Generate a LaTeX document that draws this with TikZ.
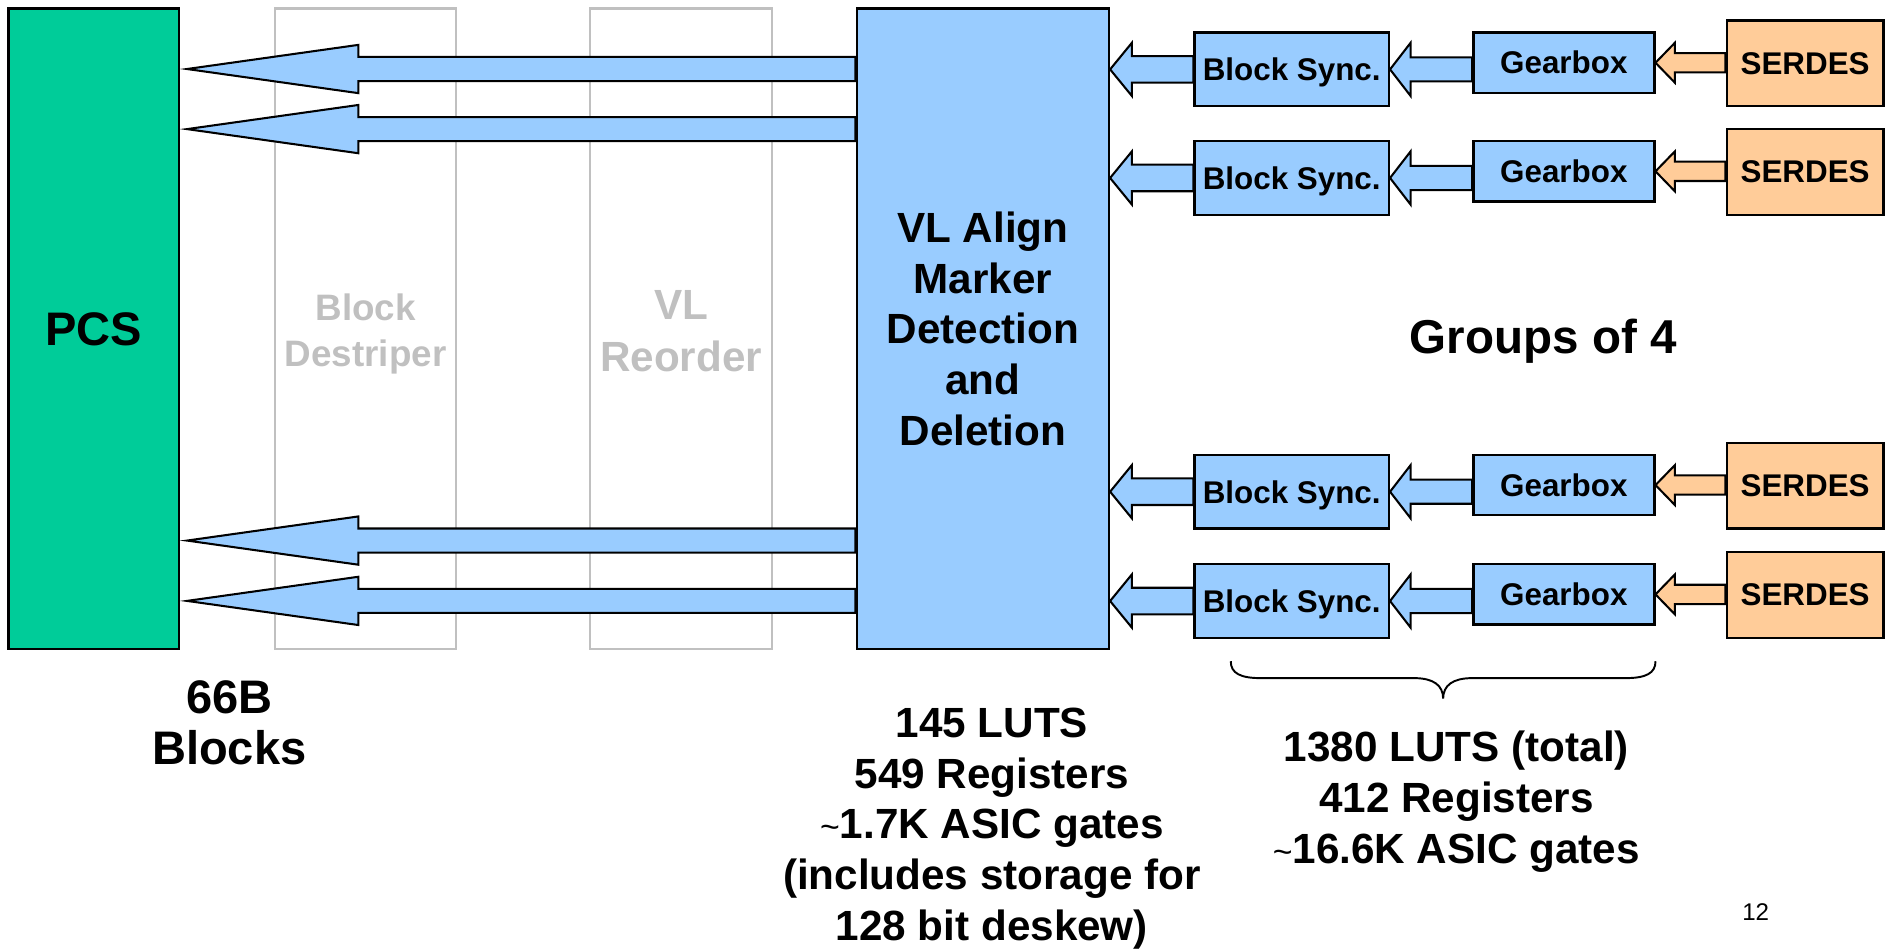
\documentclass[tikz,border=0pt]{standalone}
\usepackage{fontspec}
\setmainfont{Liberation Sans}
\usetikzlibrary{calc}
\definecolor{pcsgreen}{HTML}{00CC99}
\definecolor{lblue}{HTML}{99CCFF}
\definecolor{lorange}{HTML}{FFCC99}
\definecolor{lgrey}{HTML}{C0C0C0}
\newcommand{\blkarrow}[6]{%
  \path[#1] let \p1=(#2), \p2=(#3) in
    (\x1,\y2+#4) -- (\x2+#6,\y2+#4) -- (\x2+#6,\y2+#5) -- (\x2,\y2)
    -- (\x2+#6,\y2-#5) -- (\x2+#6,\y2-#4) -- (\x1,\y2-#4) -- cycle;}
\newcommand{\smalltilde}{{\mdseries\fontsize{14}{14}\selectfont\textasciitilde}}
\tikzset{
  box/.style={draw, line width=1pt, inner sep=0pt, align=center},
  tall/.style={box, minimum height=265.5pt},
  greybox/.style={draw=lgrey, line width=1pt, inner sep=0pt, minimum height=265.5pt},
  greylabel/.style={align=center, inner sep=0pt, text=lgrey},
  bsbox/.style={box, fill=lblue, minimum width=80.5pt, minimum height=30.5pt, text depth=0pt, font=\bfseries\fontsize{13}{15}\selectfont},
  gbbox/.style={box, fill=lblue, minimum width=75pt, minimum height=25pt, font=\bfseries\fontsize{13}{15}\selectfont},
  sdbox/.style={box, fill=lorange, minimum width=65pt, minimum height=35.5pt, font=\bfseries\fontsize{13}{15}\selectfont},
  bluearrow/.style={draw, line width=0.85pt, fill=lblue, line join=miter},
  orangearrow/.style={draw, line width=0.85pt, fill=lorange, line join=miter},
  note/.style={align=center, inner sep=0pt, font=\bfseries\fontsize{17.5}{21}\selectfont},
  bracestyle/.style={draw, line width=0.8pt}
}
\begin{document}
\begin{tikzpicture}[x=0.5pt,y=-0.5pt]
\useasboundingbox (0,0) rectangle (1568,786);
% main column boxes
\node[tall, fill=pcsgreen, minimum width=70.7pt, font=\bfseries\fontsize{19.5}{21}\selectfont] (pcs) at (77.8,272.5) {PCS};
\node[greybox, minimum width=75pt] (destr) at (303,272.5) {};
\node[greylabel, font=\bfseries\fontsize{15.25}{19}\selectfont] (destrlbl) at (303,276.5) {Block\\Destriper};
\node[greybox, minimum width=75.5pt] (reord) at (564.5,272.5) {};
\node[greylabel, font=\bfseries\fontsize{17.5}{21.5}\selectfont] (reordlbl) at (564.5,274.5) {VL\\Reorder};
\node[tall, fill=lblue, minimum width=104.5pt, font=\bfseries\fontsize{17.5}{21}\selectfont] (vl) at (814.5,272.5) {VL Align\\Marker\\Detection\\and\\Deletion};
% big arrows to PCS
\coordinate (tip1) at (155,57.2);
\coordinate (tip2) at (155,107);
\coordinate (tip3) at (155,448);
\coordinate (tip4) at (155,498);
\foreach \t in {tip1,tip2,tip3,tip4}{
  \blkarrow{bluearrow}{vl.west}{\t}{5pt}{10pt}{71pt}
}
% lane rows
\foreach \r/\top in {1/27,2/117,3/377,4/467.6}{
  \node[bsbox] (bs\r) at (1070.5,\top+30.5) {Block Sync.};
  \node[gbbox] (gb\r) at (1296,\top+25) {Gearbox};
  \node[sdbox] (sd\r) at (1496,\top+25.5) {SERDES};
  \blkarrow{bluearrow}{bs\r.west}{vl.east |- bs\r.west}{5.5pt}{11pt}{9pt}
  \blkarrow{bluearrow}{gb\r.west}{bs\r.east}{5pt}{11pt}{8.5pt}
  \blkarrow{orangearrow}{sd\r.west}{gb\r.east}{4pt}{8.25pt}{8pt}
}
\node[note, font=\bfseries\fontsize{19.7}{21}\selectfont] (groups) at (1279,283) {Groups of 4};
% brace
\draw[bracestyle] (1020,548) .. controls (1020,558) and (1028,562) .. (1045,562) -- (1172,562)
  .. controls (1188,562) and (1196,568) .. (1196,579)
  .. controls (1196,568) and (1204,562) .. (1220,562) -- (1347,562)
  .. controls (1364,562) and (1372,558) .. (1372,548);
% notes
\node[note, font=\bfseries\fontsize{19.5}{21}\selectfont] (blocks) at (190,599) {66B\\Blocks};
\node[note] (vlnote) at (822,686.5) {145 LUTS\\549 Registers\\\smalltilde1.7K ASIC gates\\(includes storage for\\128 bit deskew)};
\node[note] (lanenote) at (1207,664.5) {1380 LUTS (total)\\412 Registers\\\smalltilde16.6K ASIC gates};
\node[font=\fontsize{10}{12}\selectfont, inner sep=0pt] (pg) at (1455,756) {12};
\end{tikzpicture}
\end{document}
